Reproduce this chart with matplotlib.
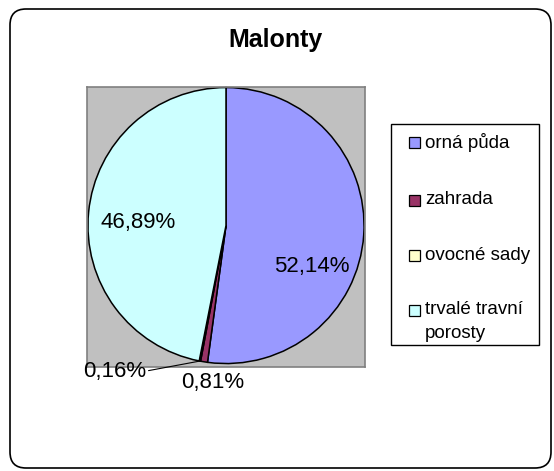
import numpy as np
import matplotlib.pyplot as plt
from matplotlib.patches import FancyBboxPatch, Rectangle

plt.rcParams['font.family'] = ['Liberation Sans', 'DejaVu Sans']

title = "Malonty"
categories = ["orná půda", "zahrada", "ovocné sady", "trvalé travní\nporosty"]
shares = [52.14, 0.81, 0.16, 46.89]
colors = ["#9999FF", "#993366", "#FFFFCC", "#CCFFFF"]

# where Excel put the data labels (pie radius = 1)
label_pos = [(0.62, -0.30), (-0.10, -1.14), (-0.81, -1.055), (-0.634, 0.022)]
leader = [False, False, True, False]

W, H = 554, 471
fig = plt.figure(figsize=(W / 100, H / 100), dpi=100)

# background layer in pixel coords (origin top-left)
bg = fig.add_axes([0, 0, 1, 1])
bg.set_xlim(0, W)
bg.set_ylim(H, 0)
bg.axis('off')

bg.add_patch(FancyBboxPatch((10, 9), 541, 459, boxstyle="round,pad=0,rounding_size=16",
                            facecolor='white', edgecolor='black', linewidth=1.2))
bg.text(276, 40, title, ha='center', va='center', fontsize=18, fontweight='bold')

# legend
bg.add_patch(Rectangle((391, 124), 148, 221, facecolor='white', edgecolor='black', linewidth=1))
legend_y = [142, 200, 255, 310]
for name, col, yc in zip(categories, colors, legend_y):
    bg.add_patch(Rectangle((409, yc - 5.5), 11, 11, facecolor=col, edgecolor='black', linewidth=0.9))
    for i, line in enumerate(name.split('\n')):
        bg.text(425, yc + 23 * i, line, ha='left', va='center', fontsize=13.5)

# pie plot area
ax = fig.add_axes([87 / W, 1 - 367 / H, 278 / W, 280 / H])
ax.pie(shares, colors=colors, startangle=90, counterclock=False, frame=True,
       wedgeprops=dict(edgecolor='black', linewidth=1.1))
ax.set_xlim(-1.007, 1.007)
ax.set_ylim(-1.025, 1.004)
ax.set_aspect('auto')
ax.set_xticks([])
ax.set_yticks([])
ax.set_facecolor('#C0C0C0')
for s in ax.spines.values():
    s.set_color('#808080')
    s.set_linewidth(1.2)

before = np.cumsum([0] + shares[:-1])
for v, b, pos, ld in zip(shares, before, label_pos, leader):
    txt = f"{v:.2f}%".replace('.', ',')
    if ld:
        theta = np.deg2rad(90 - (b + v / 2) * 3.6)
        ax.annotate(txt, xy=(np.cos(theta), np.sin(theta)), xytext=pos,
                    ha='center', va='center', fontsize=16, annotation_clip=False,
                    arrowprops=dict(arrowstyle='-', color='black', lw=0.8,
                                    shrinkA=0, shrinkB=0, relpos=(1, 0.5)))
    else:
        ax.text(pos[0], pos[1], txt, ha='center', va='center', fontsize=16, clip_on=False)

fig.savefig('out.png', dpi=100)
